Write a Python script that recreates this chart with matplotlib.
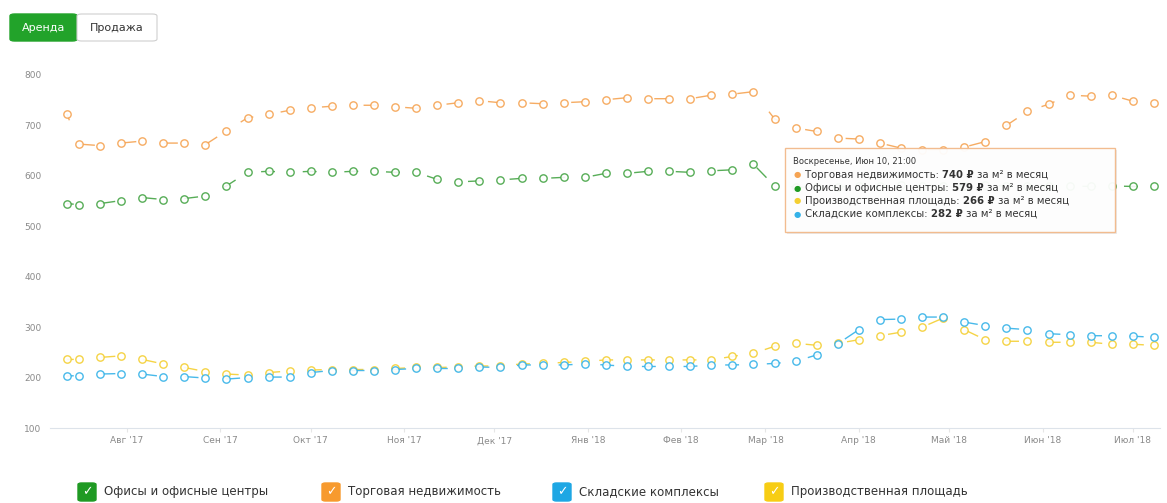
import matplotlib
matplotlib.use('Agg')
import matplotlib.pyplot as plt
import pandas as pd
from matplotlib.patches import FancyBboxPatch, Rectangle

plt.rcParams['font.family'] = ['DejaVu Sans', 'Noto Sans']
plt.rcParams['lines.scale_dashes'] = False

W, H = 1167, 503

# --- ДАННЫЕ ---
# первая точка + еженедельно (воскресенья)
dates = pd.DatetimeIndex(['2017-07-12']).append(
    pd.date_range('2017-07-16', '2018-07-08', freq='7D'))

offices = [545, 543, 545, 551, 557, 553, 555, 560, 580, 607,
           609, 607, 609, 607, 609, 609, 607, 607, 593, 588,
           590, 592, 595, 595, 597, 597, 605, 605, 609, 609,
           607, 610, 612, 623, 580, 578, 577, 578, 580, 580,
           581, 580, 579, 580, 581, 580, 579, 580, 580, 579,
           580, 579, 579]

retail = [723, 663, 660, 665, 669, 665, 665, 662, 689, 715,
          722, 730, 735, 738, 740, 740, 737, 734, 740, 745,
          749, 745, 745, 743, 745, 747, 751, 755, 753, 753,
          753, 760, 762, 767, 713, 695, 688, 675, 673, 665,
          655, 652, 652, 657, 668, 700, 728, 742, 760, 758,
          760, 748, 745]

warehouse = [203, 204, 207, 208, 207, 202, 202, 199, 197, 200,
             201, 201, 210, 214, 214, 214, 216, 218, 218, 218,
             221, 220, 225, 225, 225, 227, 225, 222, 222, 222,
             222, 225, 225, 226, 228, 232, 245, 267, 295, 315,
             316, 320, 320, 310, 303, 298, 295, 287, 285, 283,
             283, 282, 280]

industrial = [236, 236, 240, 243, 236, 227, 220, 212, 207, 205,
              210, 213, 215, 216, 216, 216, 218, 220, 220, 221,
              223, 223, 227, 228, 230, 232, 235, 235, 235, 235,
              235, 235, 242, 248, 262, 268, 264, 268, 275, 283,
              290, 300, 318, 295, 275, 272, 272, 270, 270, 270,
              266, 266, 264]

series_names = ['Офисы и офисные центры', 'Торговая недвижимость',
                'Складские комплексы', 'Производственная площадь']

month_ticks = pd.date_range('2017-08-01', '2018-07-01', freq='MS')
month_labels = ["Авг '17", "Сен '17", "Окт '17", "Ноя '17", "Дек '17", "Янв '18",
                "Фев '18", "Мар '18", "Апр '18", "Май '18", "Июн '18", "Июл '18"]
y_ticks = [100, 200, 300, 400, 500, 600, 700, 800]

tooltip_header = 'Воскресенье, Июн 10, 21:00'
tooltip_names = ['Торговая недвижимость', 'Офисы и офисные центры',
                 'Производственная площадь', 'Складские комплексы']
tooltip_values = [740, 579, 266, 282]

# --- ЦВЕТА ---
C_OFF, C_RET, C_WH, C_IND = '#45a445', '#f5a352', '#34b2e8', '#f4cf32'
BOX_COLORS = ['#1f9a23', '#f79a2e', '#1ea7e4', '#f7cd14']
TIP_DOTS = [C_RET, '#1f9a23', C_IND, C_WH]


def fx(x):
    return x / W


def fy(y):
    return 1 - y / H


fig = plt.figure(figsize=(W / 100, H / 100), dpi=100)
ax = fig.add_axes([fx(50), fy(428), (1160 - 50) / W, (428 - 75) / H])

for vals, col in [(offices, C_OFF), (retail, C_RET), (industrial, C_IND), (warehouse, C_WH)]:
    ax.plot(dates, vals, color=col, lw=1.0, ls=(5, (10, 20)), marker='o', ms=5.3,
            mfc='white', mec=col, mew=1.0, zorder=3, alpha=0.9)

ax.set_xlim(pd.Timestamp('2017-07-06 10:00'), pd.Timestamp('2018-07-10'))
ax.set_ylim(100, 800)
ax.set_xticks(month_ticks)
ax.set_xticklabels(month_labels)
ax.set_yticks(y_ticks)
ax.set_yticklabels([str(v) for v in y_ticks])
for s in ['top', 'right', 'left']:
    ax.spines[s].set_visible(False)
ax.spines['bottom'].set_color('#dde3ea')
ax.tick_params(axis='y', length=0, pad=6, labelsize=6.5, labelcolor='#8a8a8a')
ax.tick_params(axis='x', length=3, color='#e6e6e6', pad=3, labelsize=6.5, labelcolor='#8a8a8a')

# --- КНОПКИ ---
fig.patches.append(FancyBboxPatch((fx(10), fy(41)), (77 - 10) / W, 27 / H,
                                  boxstyle='round,pad=0,rounding_size=0.004',
                                  transform=fig.transFigure, fc='#22a32a', ec='#22a32a'))
fig.patches.append(FancyBboxPatch((fx(77), fy(41)), (157 - 77) / W, 27 / H,
                                  boxstyle='round,pad=0,rounding_size=0.004',
                                  transform=fig.transFigure, fc='white', ec='#cfcfcf', lw=0.8))
fig.text(fx(43.5), fy(28), 'Аренда', color='white', fontsize=8, ha='center', va='center')
fig.text(fx(117), fy(28), 'Продажа', color='#333333', fontsize=8, ha='center', va='center')

# --- ЛЕГЕНДА ---
legend_box_x = [78, 322, 553, 765]
for name, col, bx in zip(series_names, BOX_COLORS, legend_box_x):
    fig.patches.append(FancyBboxPatch((fx(bx), fy(501)), 18 / W, 18 / H,
                                      boxstyle='round,pad=0,rounding_size=0.003',
                                      transform=fig.transFigure, fc=col, ec=col))
    fig.text(fx(bx + 9), fy(492), '✓', color='white', fontsize=9, ha='center', va='center',
             fontweight='bold')
    fig.text(fx(bx + 26), fy(492), name, color='#333333', fontsize=8.5, ha='left', va='center')

# --- ПОДСКАЗКА ---
tx0, ty0, tx1, ty1 = 785, 148, 1115, 232
fig.patches.append(Rectangle((fx(tx0 + 2), fy(ty1 + 2)), (tx1 - tx0) / W, (ty1 - ty0) / H,
                             transform=fig.transFigure, fc='#000000', alpha=0.08, ec='none', zorder=5))
fig.patches.append(Rectangle((fx(tx0), fy(ty1)), (tx1 - tx0) / W, (ty1 - ty0) / H,
                             transform=fig.transFigure, fc='white', alpha=0.95,
                             ec='#f2b98a', lw=1.0, zorder=6))
fig.text(fx(793), fy(161), tooltip_header, fontsize=6, color='#333333', va='center', zorder=7)

renderer = fig.canvas.get_renderer()
size = 7.3
space = 0.318 * size * 100 / 72
for i, (name, val, dot) in enumerate(zip(tooltip_names, tooltip_values, TIP_DOTS)):
    y = 175 + i * 13
    fig.text(fx(794), fy(y), '●', fontsize=6, color=dot, va='center', zorder=7)
    x = 805
    for s, w in [(name + ':', 'normal'), (f'{val} ₽', 'bold'), ('за м² в месяц', 'normal')]:
        t = fig.text(fx(x), fy(y), s, fontsize=size, fontweight=w, color='#333333',
                     va='center', zorder=7)
        x += t.get_window_extent(renderer).width + space

fig.savefig('out.png', dpi=100)
